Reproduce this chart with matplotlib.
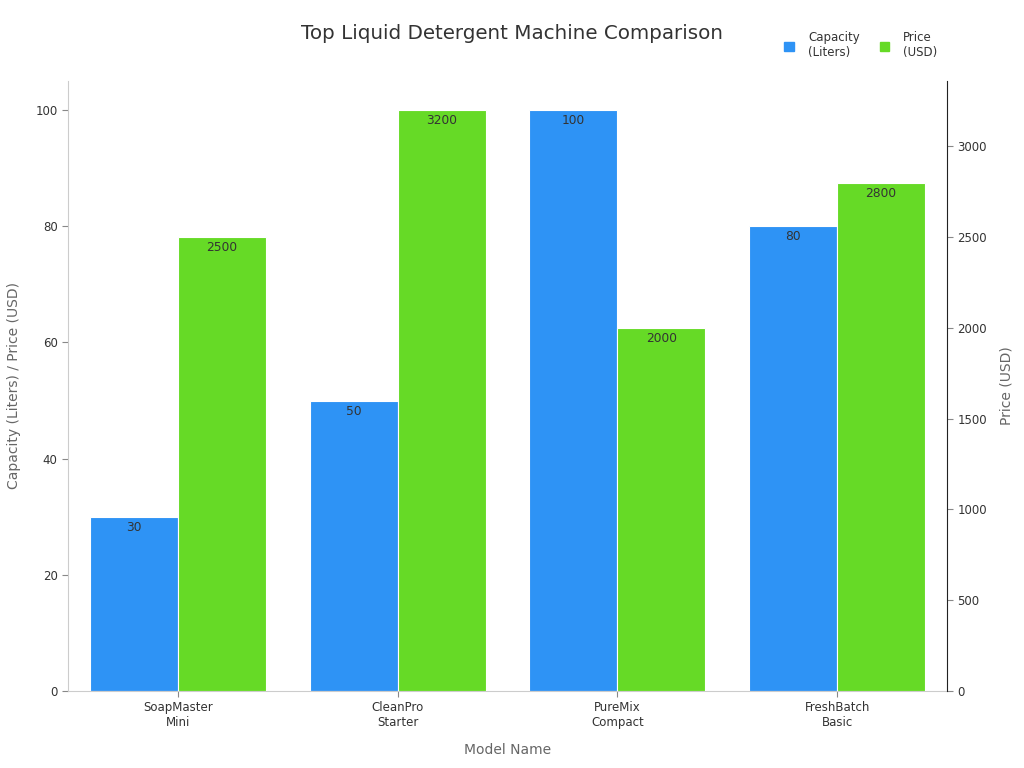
import matplotlib
matplotlib.use("Agg")
import matplotlib.pyplot as plt
import numpy as np
from matplotlib.patches import Patch

categories = ["SoapMaster\nMini", "CleanPro\nStarter", "PureMix\nCompact", "FreshBatch\nBasic"]
capacity = [30, 50, 100, 80]
price = [2500, 3200, 2000, 2800]

blue = "#2E93F5"
green = "#66DA26"
txt = "#333333"

fig = plt.figure(figsize=(10.24, 7.68), dpi=100)
ax = fig.add_axes([0.0664, 0.1003, 0.8584, 0.7942])
ax2 = ax.twinx()

x = np.arange(len(categories))
w = 0.4
b1 = ax.bar(x - w / 2, capacity, w, color=blue, edgecolor="white", linewidth=0.8, zorder=2)
b2 = ax2.bar(x + w / 2, price, w, color=green, edgecolor="white", linewidth=0.8, zorder=2)

ax.set_xlim(-0.5, 3.5)
ax.set_ylim(0, 105)
ax2.set_ylim(0, 3360)
ax.set_yticks([0, 20, 40, 60, 80, 100])
ax2.set_yticks([0, 500, 1000, 1500, 2000, 2500, 3000])

for bar, v in zip(b1, capacity):
    ax.annotate(str(v), (bar.get_x() + bar.get_width() / 2, bar.get_height()),
                xytext=(0, -3), textcoords="offset points", ha="center", va="top",
                fontsize=8.8, color=txt)
for bar, v in zip(b2, price):
    ax2.annotate(str(v), (bar.get_x() + bar.get_width() / 2, bar.get_height()),
                 xytext=(0, -3), textcoords="offset points", ha="center", va="top",
                 fontsize=8.8, color=txt)

ax.set_xticks(x)
ax.set_xticklabels(categories, fontsize=8.5, color=txt)
ax.tick_params(axis="y", labelsize=8.5, labelcolor=txt, color="#888888", length=4)
ax.tick_params(axis="x", color="#888888", length=4)
ax2.tick_params(axis="y", labelsize=8.5, labelcolor=txt, color="#888888", length=4)

for a in (ax, ax2):
    a.spines["top"].set_visible(False)
ax.spines["left"].set_color("#cccccc")
ax.spines["bottom"].set_color("#cccccc")
ax.spines["right"].set_visible(False)
ax2.spines["left"].set_visible(False)
ax2.spines["bottom"].set_visible(False)
ax2.spines["right"].set_color("#222222")

ax.set_ylabel("Capacity (Liters) / Price (USD)", fontsize=10, color="#666666", labelpad=10)
ax2.set_ylabel("Price (USD)", fontsize=10, color="#666666", labelpad=9)
ax.set_xlabel("Model Name", fontsize=10, color="#666666", labelpad=10)

fig.text(0.5, 0.957, "Top Liquid Detergent Machine Comparison", ha="center", va="center",
         fontsize=14.3, color="#333333")

handles = [Patch(color=blue, label="Capacity\n(Liters)"), Patch(color=green, label="Price\n(USD)")]
fig.legend(handles=handles, loc="upper right", bbox_to_anchor=(0.926, 0.973), ncol=2,
           frameon=False, fontsize=8.5, handlelength=0.8, handleheight=0.8,
           columnspacing=1.7, handletextpad=1.2, labelcolor=txt)

fig.savefig("out.png", dpi=100)
